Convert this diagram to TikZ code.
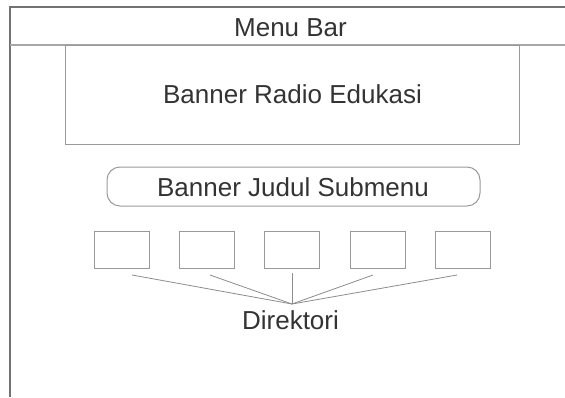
\documentclass[tikz,border=0pt]{standalone}
\usepackage{fontspec}
\setmainfont{Liberation Sans}
\begin{document}
\begin{tikzpicture}[x=1pt,y=-1pt,
  frame/.style={draw=black!55,line width=1.2pt},
  boxline/.style={draw=black!40,line width=1pt},
  lbl/.style={text=black!80,font=\fontsize{26}{30}\selectfont,inner sep=0pt,anchor=base},
  conn/.style={draw=black!45,line width=0.8pt}]
\useasboundingbox (0,0) rectangle (565,397);
% outer frame
\draw[frame] (10,397) -- (10,7) -- (566,7);
\draw[draw=black!35,line width=1.2pt] (10,45) -- (566,45);
\node[lbl] (menu) at (290.5,36) {Menu Bar};
% banner
\node[boxline,minimum width=454pt,minimum height=99pt,inner sep=0pt] (banner) at (292,95) {};
\node[lbl] (bannertext) at (292.5,103) {Banner Radio Edukasi};
% submenu banner
\node[boxline,rounded corners=13pt,minimum width=373pt,minimum height=39pt,inner sep=0pt] (sub) at (293.5,186.5) {};
\node[lbl] (subtext) at (293,196) {Banner Judul Submenu};
% boxes
\foreach \i/\x in {1/121.5,2/206.5,3/291.5,4/377.5,5/463} {
  \node[boxline,minimum width=55pt,minimum height=37pt,inner sep=0pt] (b\i) at (\x,249.5) {};
}
\coordinate (c1) at (132,275);
\coordinate (c2) at (210,275);
\coordinate (c3) at (292,273);
\coordinate (c4) at (373,275);
\coordinate (c5) at (457,275);
\coordinate (hub) at (292,304);
\foreach \i in {1,...,5} { \draw[conn] (c\i) -- (hub); }
\node[lbl] (dir) at (290.5,329) {Direktori};
\end{tikzpicture}
\end{document}
